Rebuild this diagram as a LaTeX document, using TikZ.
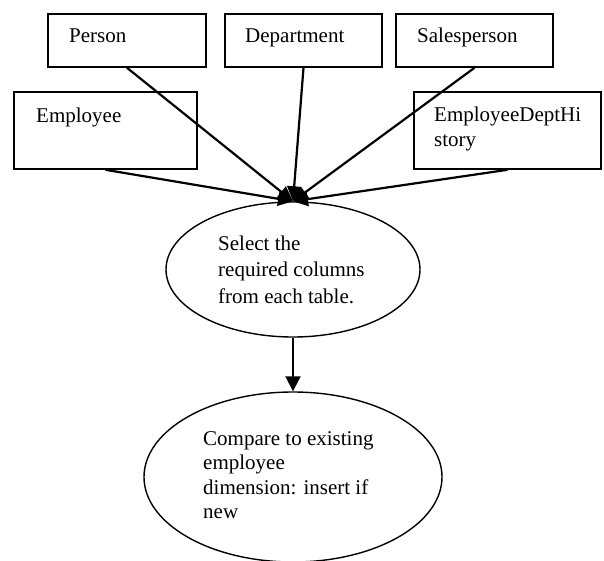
\documentclass[tikz,border=0pt]{standalone}
\usepackage{fontspec}
\setmainfont{Liberation Serif}
\usetikzlibrary{arrows.meta,shapes.geometric}

\tikzset{
  tablebox/.style={draw, line width=1.6pt, inner sep=0pt, minimum height=53pt},
  widebox/.style={tablebox, minimum height=77pt},
  stepoval/.style={draw, ellipse, line width=1.4pt, inner sep=0pt},
  txt/.style={anchor=base west, inner sep=0pt, font=\fontsize{21}{25}\selectfont},
  feed/.style={line width=2.2pt, -{Triangle[length=15pt,width=14pt]}},
  flow/.style={line width=2pt, -{Triangle[length=15pt,width=15pt]}}
}

\begin{document}
\begin{tikzpicture}[x=1pt, y=-1pt]
  \useasboundingbox (0,0) rectangle (604,561);

  % source tables
  \node[tablebox, minimum width=158pt] (person) at (127,40.5) {};
  \node[tablebox, minimum width=157pt] (dept)   at (303.5,40.5) {};
  \node[tablebox, minimum width=157pt] (sales)  at (474.5,40.5) {};
  \node[widebox,  minimum width=183pt] (emp)    at (105.5,130.5) {};
  \node[widebox,  minimum width=187pt] (hist)   at (507.5,130.5) {};

  \node[txt] (personT) at (69,43)  {Person};
  \node[txt] (deptT)   at (245,43) {Department};
  \node[txt] (salesT)  at (417,43) {Salesperson};
  \node[txt] (empT)    at (36,123) {Employee};
  \node[txt] (histA)   at (434,122) {EmployeeDeptHi};
  \node[txt] (histB)   at (434,147) {story};

  % processing steps
  \node[stepoval, minimum width=254pt, minimum height=135pt] (select) at (293,269.5) {};
  \node[stepoval, minimum width=298pt, minimum height=170pt] (compare) at (293,477) {};

  \foreach \t [count=\i] in {Select the, required columns, from each table.}
    \node[txt] (selT\i) at (218,{250+26.5*(\i-1)}) {\t};
  \foreach \t [count=\i] in {Compare to existing, employee, dimension: insert if, new}
    \node[txt] (cmpT\i) at (203,{445+24.5*(\i-1)}) {\t};

  % connectors
  \foreach \src in {person, dept, sales, emp, hist}
    \draw[feed] (\src.south) -- (select.north);
  \draw[flow] (select.south) -- (compare.north);
\end{tikzpicture}
\end{document}
